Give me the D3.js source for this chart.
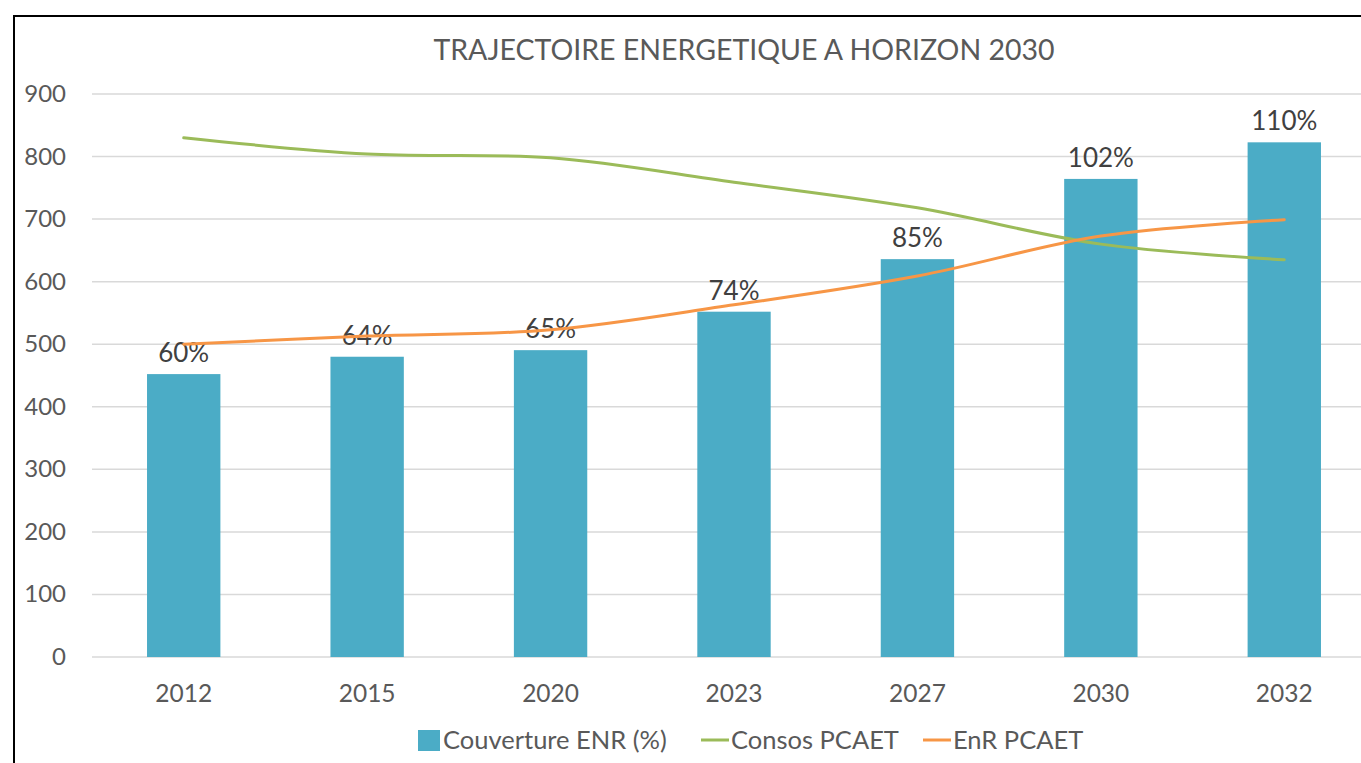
<!DOCTYPE html>
<html>
<head>
<meta charset="utf-8">
<script src="https://cdn.jsdelivr.net/npm/d3@7"></script>
<style>
  html, body { margin: 0; padding: 0; background: #fff; }
  svg { display: block; font-family: Lato, "Open Sans", sans-serif; }
</style>
</head>
<body>
<svg id="viz" width="1361" height="763"></svg>
<script>
// Data

var years = ["2012", "2015", "2020", "2023", "2027", "2030", "2032"];
var couverture = [60.3, 64.0, 65.4, 73.6, 84.8, 101.9, 109.7];   // % (secondary axis, 0-120)
var consos = [830, 804, 798, 759, 718, 660, 635];
var enr = [500, 513, 523, 563, 609, 673, 699];
var yTicks = [0, 100, 200, 300, 400, 500, 600, 700, 800, 900];

var svg = d3.select("#viz");

// Scales

var x = d3.scaleBand()
    .domain(years)
    .range([92, 1376])
    .paddingInner(0.6)
    .paddingOuter(0.3);

var y = d3.scaleLinear()
    .domain([0, 900])
    .range([657, 94]);

// hidden secondary axis for the coverage bars
var yPct = d3.scaleLinear()
    .domain([0, 120])
    .range([657, 94]);

// Frame

svg.append("path")
    .attr("d", "M14,763 L14,16 L1361,16")
    .attr("fill", "none")
    .attr("stroke", "#000")
    .attr("stroke-width", 2);

// Title

svg.append("text")
    .attr("x", 744)
    .attr("y", 60)
    .attr("text-anchor", "middle")
    .attr("font-size", 28.5)
    .attr("fill", "#595959")
    .text("TRAJECTOIRE ENERGETIQUE A HORIZON 2030");

// Gridlines + y labels

var grid = svg.append("g").attr("class", "grid");

grid.selectAll("line")
    .data(yTicks)
    .enter().append("line")
      .attr("x1", 92)
      .attr("x2", 1376)
      .attr("y1", d => y(d))
      .attr("y2", d => y(d))
      .attr("stroke", "#d9d9d9")
      .attr("stroke-width", 1.5);

grid.selectAll("text")
    .data(yTicks)
    .enter().append("text")
      .attr("x", 66)
      .attr("y", d => y(d) + 8)
      .attr("text-anchor", "end")
      .attr("font-size", 24)
      .attr("fill", "#595959")
      .text(d => d);

// X labels

svg.append("g")
    .selectAll("text")
    .data(years)
    .enter().append("text")
      .attr("x", d => x(d) + x.bandwidth() / 2)
      .attr("y", 702)
      .attr("text-anchor", "middle")
      .attr("font-size", 24.5)
      .attr("fill", "#595959")
      .text(d => d);

// Bars

var bars = svg.append("g").attr("class", "bars");

bars.selectAll("rect")
    .data(couverture)
    .enter().append("rect")
      .attr("x", (d, i) => x(years[i]))
      .attr("width", x.bandwidth())
      .attr("y", d => yPct(d))
      .attr("height", d => yPct(0) - yPct(d))
      .attr("fill", "#4BACC6");

// Lines

var line = d3.line()
    .x((d, i) => x(years[i]) + x.bandwidth() / 2)
    .y(d => y(d))
    .curve(d3.curveCatmullRom.alpha(0.5));

svg.append("path")
    .datum(consos)
    .attr("d", line)
    .attr("fill", "none")
    .attr("stroke", "#9BBB59")
    .attr("stroke-width", 3)
    .attr("stroke-linecap", "round");

svg.append("path")
    .datum(enr)
    .attr("d", line)
    .attr("fill", "none")
    .attr("stroke", "#F79646")
    .attr("stroke-width", 3)
    .attr("stroke-linecap", "round");

// Bar labels (drawn over the lines)

bars.selectAll("text")
    .data(couverture)
    .enter().append("text")
      .attr("x", (d, i) => x(years[i]) + x.bandwidth() / 2)
      .attr("y", d => yPct(d) - 12)
      .attr("text-anchor", "middle")
      .attr("font-size", 26)
      .attr("fill", "#404040")
      .text(d => Math.round(d) + "%");

// Legend

var legend = svg.append("g").attr("class", "legend");

legend.append("rect")
    .attr("x", 418).attr("y", 730)
    .attr("width", 22).attr("height", 21)
    .attr("fill", "#4BACC6");
legend.append("text")
    .attr("x", 443).attr("y", 749)
    .attr("font-size", 25.5).attr("fill", "#595959")
    .text("Couverture ENR (%)");

legend.append("line")
    .attr("x1", 701).attr("x2", 729)
    .attr("y1", 740).attr("y2", 740)
    .attr("stroke", "#9BBB59").attr("stroke-width", 3);
legend.append("text")
    .attr("x", 731).attr("y", 749)
    .attr("font-size", 25.5).attr("fill", "#595959")
    .text("Consos PCAET");

legend.append("line")
    .attr("x1", 923).attr("x2", 951)
    .attr("y1", 740).attr("y2", 740)
    .attr("stroke", "#F79646").attr("stroke-width", 3);
legend.append("text")
    .attr("x", 953).attr("y", 749)
    .attr("font-size", 25.5).attr("fill", "#595959")
    .text("EnR PCAET");
</script>
</body>
</html>
